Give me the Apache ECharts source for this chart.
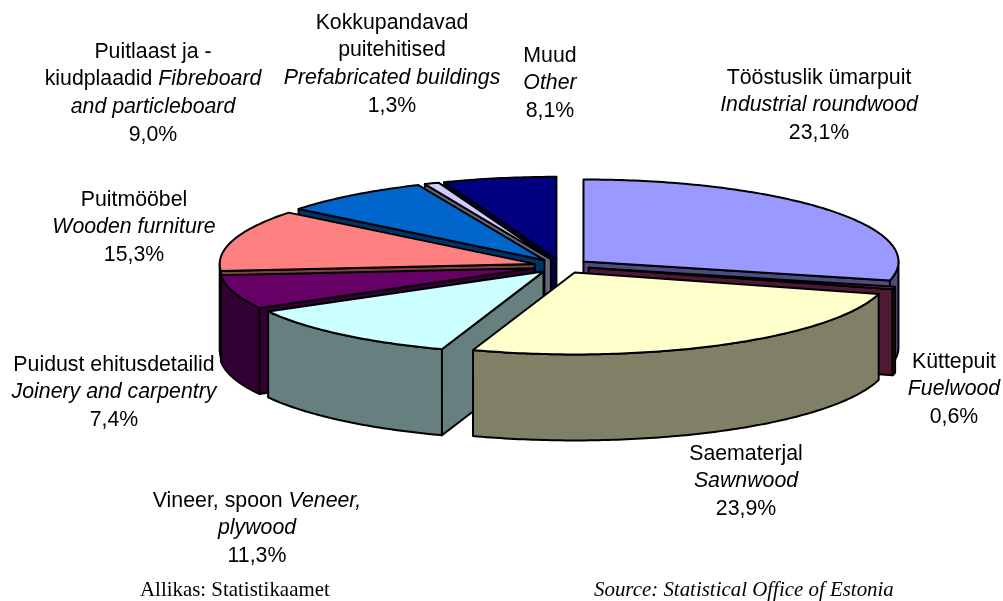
<!DOCTYPE html>
<html>
<head>
<meta charset="utf-8">
<title>Puidutooted</title>
<script src="https://cdn.jsdelivr.net/npm/echarts@6/dist/echarts.min.js"></script>
<style>
html, body { margin: 0; padding: 0; background: #fff; }
#main { width: 1003px; height: 601px; }
</style>
</head>
<body>
<div id="main"></div>
<script>
// printed percentages, clockwise from 12 o'clock
var categories = ['Tööstuslik ümarpuit', 'Küttepuit', 'Saematerjal', 'Vineer, spoon', 'Puidust ehitusdetailid',
    'Puitmööbel', 'Puitlaast ja -kiudplaadid', 'Kokkupandavad puitehitised', 'Muud'];
var printedShares = ['23,1%', '0,6%', '23,9%', '11,3%', '7,4%', '15,3%', '9,0%', '1,3%', '8,1%'];
// the drawn wedges do not follow the printed numbers, so these are read off the wedges themselves
var drawnShares = [28.7, 0.5, 26.0, 11.7, 6.7, 12.1, 7.7, 0.75, 5.8];
var topColors = ['#9999FF', '#993366', '#FFFFCC', '#CCFFFF', '#660066', '#FF8080', '#0066CC', '#CCCCFF', '#000080'];
var sideColors = ['#4C4C80', '#4D1933', '#808066', '#668080', '#330033', '#804040', '#003366', '#666680', '#000040'];

var labelLines = [
    ['Tööstuslik ümarpuit', '{i|Industrial roundwood}'],
    ['Küttepuit', '{i|Fuelwood}'],
    ['Saematerjal', '{i|Sawnwood}'],
    ['Vineer, spoon {i|Veneer,}', '{i|plywood}'],
    ['Puidust ehitusdetailid', '{i|Joinery and carpentry}'],
    ['Puitmööbel', '{i|Wooden furniture}'],
    ['Puitlaast ja -', 'kiudplaadid {i|Fibreboard}', '{i|and particleboard}'],
    ['Kokkupandavad', 'puitehitised', '{i|Prefabricated buildings}'],
    ['Muud', '{i|Other}']
];
// centre x and top y of each label block
var labelAnchors = [[819, 64], [954, 348], [746, 440], [257, 487], [114, 351], [134, 186], [153, 38], [392, 9], [550, 42]];

var cx = 561.5, cy = 266, rx = 315, ry = 82, depth = 86, explode = 28;
var squash = ry / rx;
var total = drawnShares.reduce(function (a, b) { return a + b; }, 0);

// cumulative angle of every wedge edge
var edges = [0];
drawnShares.forEach(function (v, i) { edges.push(edges[i] + v); });
function angleOf(share) {
    return echarts.number.linearMap(share, [0, total], [0, Math.PI * 2], true);
}
function midAngle(i) { return angleOf((edges[i] + edges[i + 1]) / 2); }

// back wedges first so the front ones cover them
var drawOrder = drawnShares.map(function (v, i) { return i; }).sort(function (a, b) {
    return Math.cos(midAngle(b)) - Math.cos(midAngle(a));
});

function rim(ox, oy, a) {
    return [ox + rx * Math.sin(a), oy - ry * Math.cos(a)];
}
function arcPoints(ox, oy, a0, a1, drop) {
    var n = Math.max(2, Math.ceil((a1 - a0) / 0.015)), pts = [];
    for (var k = 0; k <= n; k++) {
        var p = rim(ox, oy, a0 + (a1 - a0) * k / n);
        pts.push([p[0], p[1] + drop]);
    }
    return pts;
}
function face(points, fill) {
    return {
        type: 'polygon',
        shape: { points: points },
        style: { fill: fill, stroke: '#000', lineWidth: 2, lineJoin: 'round' }
    };
}

function renderWedge(params, api) {
    var i = api.value(0);
    var a0 = angleOf(edges[i]), a1 = angleOf(edges[i + 1]), mid = (a0 + a1) / 2;
    var ox = cx + explode * Math.sin(mid);
    var oy = cy - explode * squash * Math.cos(mid);
    var children = [];

    function radialWall(a) {
        var p = rim(ox, oy, a);
        children.push(face([[ox, oy], p, [p[0], p[1] + depth], [ox, oy + depth]], sideColors[i]));
    }
    if (Math.sin(a0) < -0.001) radialWall(a0);
    if (Math.sin(a1) > 0.001) radialWall(a1);

    // only the front half of the rim shows a wall
    var w0 = Math.max(a0, Math.PI / 2), w1 = Math.min(a1, Math.PI * 1.5);
    if (w1 > w0) {
        children.push(face(arcPoints(ox, oy, w0, w1, 0).concat(arcPoints(ox, oy, w0, w1, depth).reverse()), sideColors[i]));
    }
    children.push(face([[ox, oy]].concat(arcPoints(ox, oy, a0, a1, 0)), topColors[i]));
    return { type: 'group', children: children };
}

var sansFont = '"Liberation Sans", Arial, sans-serif';
var serifFont = '"Liberation Serif", "Times New Roman", serif';
var labelFontSize = 21.3, labelLineHeight = 27.7;

var graphics = categories.map(function (name, i) {
    return {
        type: 'text',
        x: labelAnchors[i][0],
        y: labelAnchors[i][1],
        silent: true,
        style: {
            text: labelLines[i].concat(printedShares[i]).join('\n'),
            align: 'center',
            verticalAlign: 'top',
            font: labelFontSize + 'px ' + sansFont,
            lineHeight: labelLineHeight,
            fill: '#000',
            rich: {
                i: { fontStyle: 'italic', fontFamily: sansFont, fontSize: labelFontSize, lineHeight: labelLineHeight, fill: '#000' }
            }
        }
    };
});
graphics.push({
    type: 'text', x: 140, y: 591, silent: true,
    style: { text: 'Allikas: Statistikaamet', verticalAlign: 'middle', font: '20.9px ' + serifFont, fill: '#000' }
});
graphics.push({
    type: 'text', x: 594, y: 591, silent: true,
    style: { text: 'Source: Statistical Office of Estonia', verticalAlign: 'middle', font: 'italic 20.9px ' + serifFont, fill: '#000' }
});

var myChart = echarts.init(document.getElementById('main'));
myChart.setOption({
    animation: false,
    backgroundColor: '#fff',
    graphic: graphics,
    series: [{
        type: 'custom',
        coordinateSystem: 'none',
        silent: true,
        renderItem: renderWedge,
        data: drawOrder.map(function (i) { return [i, drawnShares[i]]; })
    }]
});
</script>
</body>
</html>
